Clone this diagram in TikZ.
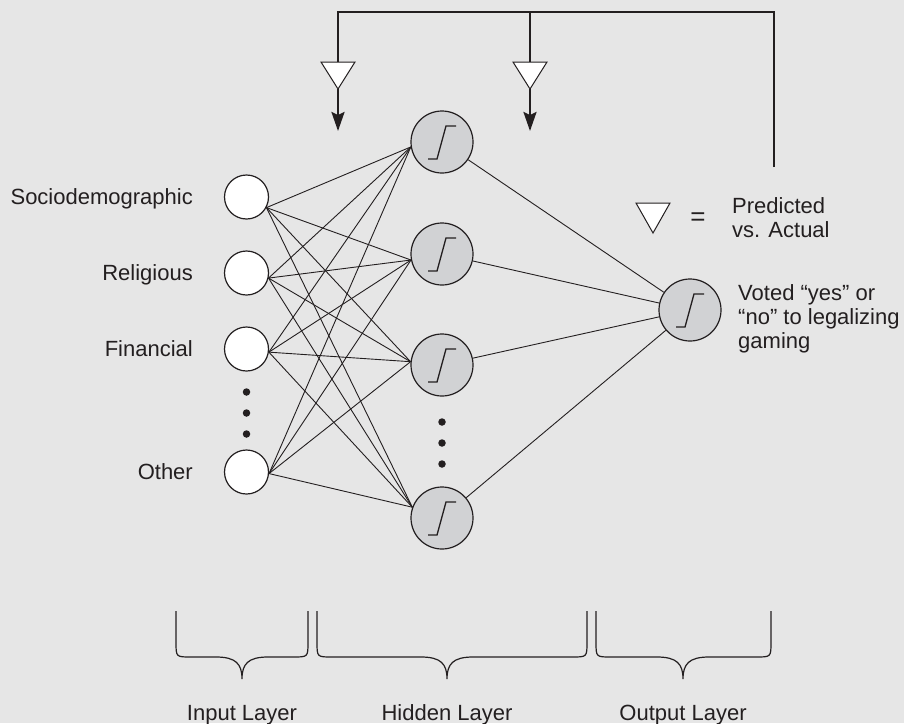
\documentclass[tikz,border=0pt]{standalone}
\usepackage{fontspec}
\setmainfont{Liberation Sans}
\usetikzlibrary{arrows.meta,calc}
\definecolor{bg}{HTML}{E6E6E6}
\definecolor{ink}{HTML}{231F20}
\definecolor{nodegray}{HTML}{D1D2D4}
\begin{document}
\begin{tikzpicture}[x=1pt,y=-1pt,
  inp/.style={circle,draw=ink,fill=white,line width=1.2pt,minimum size=44pt,inner sep=0pt},
  hid/.style={circle,draw=ink,fill=nodegray,line width=1.2pt,minimum size=62pt,inner sep=0pt},
  wire/.style={draw=ink,line width=0.9pt},
  sig/.style={draw=ink,line width=1.3pt},
  fb/.style={draw=ink,line width=2.4pt},
  tri/.style={draw=ink,fill=white,line width=1pt,line join=miter},
  lbl/.style={text=ink,font=\fontsize{22}{24}\selectfont,inner sep=0pt},
  dotn/.style={circle,fill=ink,inner sep=0pt,minimum size=7.5pt},
  bracepath/.style={draw=ink,line width=1.2pt}]
\useasboundingbox (0,0) rectangle (904,723);
\fill[bg] (0,0) rectangle (904,723);

% input nodes
\node[inp] (i1) at (246.5,197) {};
\node[inp] (i2) at (246.5,273) {};
\node[inp] (i3) at (246.5,349) {};
\node[inp] (i4) at (246.5,472) {};
\node[dotn] (di1) at (246.5,392) {};
\node[dotn] (di2) at (246.5,413) {};
\node[dotn] (di3) at (246.5,434) {};

% hidden nodes
\node[hid] (h1) at (442,142) {};
\node[hid] (h2) at (442,254) {};
\node[hid] (h3) at (442,365) {};
\node[hid] (h4) at (442,518) {};
\node[dotn] (dh1) at (442,422) {};
\node[dotn] (dh2) at (442,443) {};
\node[dotn] (dh3) at (442,464) {};

% output node
\node[hid] (out) at (690,310) {};

% input -> hidden connections
\coordinate (a1) at (i1.-28);
\coordinate (a2) at (i2.-13);
\coordinate (a3) at (i3.-8);
\coordinate (a4) at (i4.-4);
\coordinate (b1) at (h1.189);
\coordinate (b2) at (h2.191);
\coordinate (b3) at (h3.174);
\coordinate (b4) at (h4.160);
\foreach \a in {a1,a2,a3,a4}{
  \foreach \b in {b1,b2,b3,b4}{
    \draw[wire] (\a) -- (\b);
  }
}

% hidden -> output
\foreach \h in {h1,h2,h3,h4}{
  \draw[wire] (\h) -- (out);
}

% sigmoid glyphs
\foreach \n in {h1,h2,h3,h4,out}{
  \draw[sig] ([shift={(-14,17)}]\n.center) -- ([shift={(-5,17)}]\n.center)
     -- ([shift={(4,-16)}]\n.center) -- ([shift={(14,-16)}]\n.center);
}

% feedback loop
\coordinate (fbR) at (774,167);
\coordinate (fbTR) at (774,12);
\coordinate (fbTL) at (338,12);
\coordinate (fbTM) at (530,12);
\coordinate (t1top) at (338,62);
\coordinate (t2top) at (530,62);
\coordinate (t1apex) at (338,89);
\coordinate (t2apex) at (530,89);
\coordinate (tip1) at (338,131);
\coordinate (tip2) at (530,131);
\draw[fb,line join=miter] (fbR) -- (fbTR) -- (fbTL) -- (t1top);
\draw[fb] (fbTM) -- (t2top);
\draw[tri] (321,62) -- (355,62) -- (t1apex) -- cycle;
\draw[tri] (513,62) -- (547,62) -- (t2apex) -- cycle;
\draw[fb,-{Stealth[length=19pt,width=13pt,inset=3pt]}] (t1apex) -- (tip1);
\draw[fb,-{Stealth[length=19pt,width=13pt,inset=3pt]}] (t2apex) -- (tip2);

% legend
\draw[tri] (636,203) -- (670,203) -- (653,233) -- cycle;
\node[lbl,font=\fontsize{26}{26}\selectfont] (eq) at (698,219) {=};
\node[lbl,anchor=north west,align=left] (pred) at (732,197) {Predicted\\vs. Actual};
\node[lbl,anchor=north west,align=left] (voted) at (738,284) {Voted “yes” or\\“no” to legalizing\\gaming};

% input labels
\node[lbl,anchor=base east] (lsoc) at (193,204) {Sociodemographic};
\node[lbl,anchor=base east] (lrel) at (193,280) {Religious};
\node[lbl,anchor=base east] (lfin) at (193,356) {Financial};
\node[lbl,anchor=base east] (loth) at (193,479) {Other};

% braces
\foreach \L/\T/\R in {176/242/308, 317/447/587, 596/683/771}{
  \draw[bracepath] (\L,611) -- (\L,642) .. controls (\L,657) .. (\L+15,657)
    -- (\T-26,657) .. controls (\T-6,657) and (\T,664) .. (\T,679)
    .. controls (\T,664) and (\T+6,657) .. (\T+26,657)
    -- (\R-15,657) .. controls (\R,657) .. (\R,642) -- (\R,611);
}

% layer labels
\node[lbl,anchor=base] (lin) at (242,720) {Input Layer};
\node[lbl,anchor=base] (lhid) at (447,720) {Hidden Layer};
\node[lbl,anchor=base] (lout) at (683,720) {Output Layer};
\end{tikzpicture}
\end{document}
